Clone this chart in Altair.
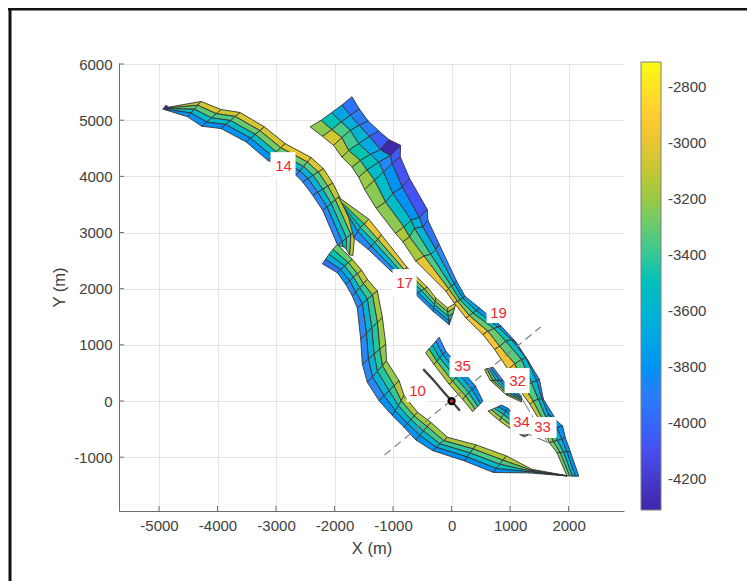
import altair as alt
import pandas as pd

# fault meshes: rows of nodes across the fault, (x, y) in metres, shallow edge first
fault14 = [
 [(-4900,5220),(-4905,5212),(-4908,5205),(-4910,5198),(-4912,5190)],
 [(-4282,5333),(-4340,5265),(-4396,5196),(-4453,5128),(-4510,5060)],
 [(-3940,5190),(-4022,5116),(-4105,5042),(-4187,4967),(-4270,4893)],
 [(-3615,5137),(-3696,5066),(-3778,4994),(-3859,4923),(-3940,4851)],
 [(-3199,4881),(-3277,4814),(-3356,4747),(-3434,4680),(-3512,4613)],
 [(-2845,4584),(-2919,4510),(-2994,4435),(-3068,4361),(-3142,4286)],
 [(-2401,4334),(-2465,4255),(-2529,4176),(-2593,4097),(-2657,4018)],
 [(-2190,4137),(-2278,4078),(-2367,4018),(-2455,3959),(-2543,3899)],
 [(-2030,3881),(-2116,3826),(-2201,3771),(-2287,3716),(-2372,3661)],
 [(-1916,3643),(-1987,3581),(-2059,3518),(-2130,3456),(-2201,3393)],
 [(-1648,3036),(-1722,2969),(-1797,2903),(-1871,2836),(-1945,2769)],
 [(-1688,2590),(-1745,2602),(-1802,2709),(-1856,2751),(-1945,2769)],
]
values14 = [
 [-3150,-3050,-3080,-3050,-3060,-3020,-3030,-3100,-3120,-3130,-3100],
 [-3300,-3330,-3350,-3300,-3280,-3300,-3330,-3350,-3350,-3400,-3350],
 [-3550,-3550,-3560,-3550,-3550,-3580,-3600,-3620,-3600,-3600,-3500],
 [-3800,-3800,-3820,-3800,-3800,-3850,-3850,-3850,-3850,-3850,-3500],
]
fault17 = [
 [(-1931,3627),(-1885,3537),(-1839,3448),(-1799,3358),(-1759,3269)],
 [(-1415,3239),(-1490,3149),(-1559,3090),(-1599,3018),(-1673,2910)],
 [(-1198,2958),(-1261,2881),(-1312,2821),(-1375,2761),(-1427,2702)],
 [(-756,2373),(-814,2343),(-871,2313),(-928,2284),(-986,2266)],
 [(-413,2027),(-464,1997),(-516,1967),(-567,1931),(-613,1896)],
 [(-269,1836),(-281,1776),(-292,1717),(-304,1657),(-315,1597)],
 [(-69,1657),(-63,1585),(-57,1508),(-46,1430),(-40,1358)],
 [(74,1746),(52,1657),(29,1567),(-6,1466),(-40,1358)],
]
values17 = [
 [-3200,-3000,-3030,-3050,-3100,-3150,-3100],
 [-3450,-3350,-3350,-3350,-3350,-3350,-3300],
 [-3550,-3600,-3600,-3600,-3550,-3550,-3500],
 [-3750,-3850,-3850,-3850,-3800,-3800,-3800],
]
fault19 = [
 [(-2418,4881),(-2229,5000),(-2046,5137),(-1874,5269),(-1702,5418)],
 [(-2206,4713),(-2046,4833),(-1885,4970),(-1730,5090),(-1576,5197)],
 [(-2017,4552),(-1874,4690),(-1730,4821),(-1576,4910),(-1427,4988)],
 [(-1874,4343),(-1759,4463),(-1587,4582),(-1404,4713),(-1243,4809)],
 [(-1702,4164),(-1559,4284),(-1387,4391),(-1215,4475),(-1072,4654)],
 [(-1587,3985),(-1444,4116),(-1243,4254),(-1043,4373),(-871,4552)],
 [(-1487,3767),(-1316,3932),(-1162,4080),(-1014,4229),(-877,4347)],
 [(-1287,3429),(-1128,3546),(-1003,3696),(-843,3813),(-718,3962)],
 [(-957,2984),(-815,3101),(-689,3221),(-547,3269),(-415,3411)],
 [(-832,2834),(-718,2923),(-632,3073),(-490,3101),(-405,3221)],
 [(-613,2493),(-470,2582),(-355,2612),(-269,2702),(-212,2791)],
 [(-97,1955),(-52,2003),(0,2045),(46,2087),(86,2134)],
 [(46,1746),(103,1776),(143,1806),(189,1836),(229,1866)],
 [(246,1478),(305,1523),(365,1568),(420,1612),(476,1657)],
 [(535,1184),(621,1243),(725,1291),(790,1320),(851,1332)],
 [(736,918),(822,977),(926,1066),(1023,1095),(1110,1036)],
 [(966,562),(1081,663),(1196,740),(1271,770),(1328,681)],
 [(1156,207),(1236,266),(1368,326),(1455,367),(1501,385)],
 [(1340,-59),(1397,0),(1484,30),(1541,47),(1570,30)],
 [(1512,-355),(1558,-326),(1616,-296),(1656,-237),(1800,-355)],
 [(1599,-533),(1656,-521),(1714,-503),(1800,-474),(1898,-444)],
 [(1668,-740),(1742,-722),(1811,-699),(1886,-681),(1944,-651)],
 [(1800,-918),(1857,-918),(1915,-906),(1972,-900),(2030,-900)],
 [(1972,-1332),(2018,-1332),(2064,-1338),(2116,-1338),(2174,-1338)],
]
values19 = [
 [-3230,-3060,-3150,-3200,-3260,-3200,-3230,-3230,-3150,-3180,-3000,-3000,-2980,-2980,-2960,-2980,-3000,-3050,-3100,-3200,-3200,-3250,-3250],
 [-3480,-3350,-3380,-3450,-3500,-3550,-3550,-3550,-3450,-3350,-3350,-3300,-3300,-3300,-3300,-3320,-3350,-3350,-3350,-3400,-3400,-3400,-3400],
 [-3700,-3650,-3600,-3680,-3700,-3850,-3800,-3800,-3650,-3600,-3550,-3500,-3500,-3500,-3500,-3550,-3600,-3600,-3600,-3600,-3600,-3600,-3600],
 [-3950,-3900,-3900,-4050,-4300,-4050,-4080,-4080,-3950,-3950,-3850,-3800,-3750,-3800,-3800,-3800,-3800,-3850,-3800,-3800,-3800,-3800,-3800],
]
fault10 = [
 [(-1953,2788),(-2027,2700),(-2096,2611),(-2153,2522),(-2210,2445)],
 [(-1696,2522),(-1764,2463),(-1827,2404),(-1896,2344),(-1953,2285)],
 [(-1536,2327),(-1610,2267),(-1679,2208),(-1742,2137),(-1810,2078)],
 [(-1439,2167),(-1507,2090),(-1570,2019),(-1639,1942),(-1696,1871)],
 [(-1268,1960),(-1353,1888),(-1439,1812),(-1525,1735),(-1610,1652)],
 [(-1182,1486),(-1268,1397),(-1365,1308),(-1456,1202),(-1553,1101)],
 [(-1125,1012),(-1228,924),(-1325,835),(-1422,746),(-1525,657)],
 [(-1113,716),(-1182,628),(-1268,527),(-1353,432),(-1439,332)],
 [(-896,361),(-982,272),(-1068,184),(-1153,95),(-1239,6)],
 [(-811,95),(-862,6),(-908,-83),(-965,-172),(-1011,-260)],
 [(-582,-201),(-640,-266),(-697,-332),(-754,-397),(-811,-468)],
 [(-354,-379),(-417,-456),(-480,-533),(-542,-610),(-611,-693)],
 [(-69,-645),(-137,-704),(-200,-764),(-263,-823),(-325,-882)],
 [(420,-781),(368,-852),(316,-924),(265,-995),(219,-1066)],
 [(937,-977),(880,-1054),(822,-1125),(765,-1202),(719,-1273)],
 [(1368,-1214),(1357,-1231),(1346,-1249),(1334,-1261),(1311,-1279)],
 [(1972,-1330),(1972,-1331),(1972,-1332),(1972,-1333),(1972,-1334)],
]
values10 = [
 [-3300,-3150,-3100,-3150,-3180,-3200,-3220,-3220,-3150,-3150,-3180,-3200,-3180,-3160,-3140,-3140],
 [-3450,-3350,-3300,-3400,-3400,-3420,-3420,-3420,-3400,-3380,-3380,-3380,-3400,-3350,-3350,-3350],
 [-3650,-3650,-3600,-3600,-3620,-3620,-3620,-3620,-3600,-3600,-3600,-3600,-3600,-3550,-3500,-3500],
 [-3950,-3800,-3850,-3850,-3850,-3850,-3850,-3850,-3800,-3800,-3800,-3800,-3820,-3820,-3800,-3600],
]
fault35 = [
 [(-443,858),(-385,929),(-328,995),(-270,1066),(-213,1137)],
 [(-299,651),(-253,710),(-201,770),(-150,829),(-98,888)],
 [(-40,296),(17,355),(75,414),(132,474),(190,533)],
 [(190,30),(242,89),(293,148),(351,207),(408,266)],
 [(362,-189),(403,-142),(449,-95),(495,-47),(535,0)],
]
values35 = [
 [-3200,-3150,-3150,-3200],
 [-3450,-3400,-3350,-3350],
 [-3650,-3600,-3600,-3600],
 [-3850,-3800,-3800,-3800],
]
fault32 = [
 [(564,562),(604,574),(638,580),(673,592),(707,604)],
 [(661,367),(707,367),(765,367),(822,367),(880,367)],
 [(937,107),(949,130),(966,154),(984,189),(995,237)],
 [(1196,-18),(1196,12),(1196,41),(1196,65),(1196,89)],
]
values32 = [
 [-3150,-3150,-3150],
 [-3400,-3400,-3400],
 [-3600,-3600,-3600],
 [-3850,-3800,-3800],
]
fault34 = [
 [(621,-178),(679,-154),(736,-130),(794,-101),(851,-71)],
 [(822,-355),(851,-296),(891,-237),(926,-178),(966,-130)],
 [(995,-485),(995,-414),(995,-326),(995,-237),(995,-166)],
]
values34 = [
 [-3150,-3150],
 [-3350,-3350],
 [-3600,-3600],
 [-3800,-3800],
]
faults = [(fault14,values14),(fault17,values17),(fault19,values19),
          (fault10,values10),(fault35,values35),(fault32,values32),(fault34,values34)]

# thin traces and small pieces
trace_a_x = [1156,1254,1311,1656]
trace_a_y = [-592,-622,-592,-740]
trace_b_x = [1081,1311,1627]
trace_b_y = [266,-148,-710]
patch33 = [(1179,-604),(1311,-604),(1242,-639),(1179,-604)]
tip_patch = [(-4937,5196),(-4880,5268),(-4812,5208),(-4937,5196)]
patch_values = [-3100, -4310]
well_x = [-485,-325,-154,0,143]
well_y = [568,391,184,0,-172]
profile_x = [-1145,1521]
profile_y = [-960,1317]

label_text = ["14","17","19","10","35","32","34","33"]
label_x = [-2872,-803,803,-581,188,1128,1197,1556]
label_y = [4181,2100,1566,178,623,356,-374,-463]
box_x1 = [-3094,-1009,598,-769,-34,906,991,1368]
box_x2 = [-2667,-598,957,-410,342,1333,1368,1795]
box_y1 = [4431,2349,1708,320,783,587,-196,-285]
box_y2 = [3950,1851,1388,-18,427,142,-463,-658]

xticks = [-5000,-4000,-3000,-2000,-1000,0,1000,2000]
yticks = [-1000,0,1000,2000,3000,4000,5000,6000]
cticks = [-2800,-3000,-3200,-3400,-3600,-3800,-4000,-4200]
parula = ["#3e26a8","#4752f4","#2d87f7","#12b1d6","#37c897","#abc739","#fec338","#f9fb14"]
CD = [-4311,-2711]
XD = [-5684, 2947]
YD = [-1958, 6018]

rows = []
cid = 0
for mesh, vals in faults:
    for j, strip in enumerate(vals):
        for i, v in enumerate(strip):
            corners = [mesh[i][j], mesh[i][j+1], mesh[i+1][j+1], mesh[i+1][j], mesh[i][j]]
            for k, (px, py) in enumerate(corners):
                rows.append(dict(cell=cid, k=k, x=px, y=py, z=v))
            cid += 1
for poly, v in zip([patch33, tip_patch], patch_values):
    for k, (px, py) in enumerate(poly):
        rows.append(dict(cell=cid, k=k, x=px, y=py, z=v))
    cid += 1
cells = pd.DataFrame(rows)

xs = alt.Scale(domain=XD, nice=False)
ys = alt.Scale(domain=YD, nice=False)
FONT = "Liberation Sans"
GREY = "#404040"

base_axis = dict(grid=True, gridColor="#e4e4e4", gridWidth=1, ticks=False, domainColor="#6e6e6e",
                 domainWidth=1, labelColor=GREY, titleColor=GREY, labelFont=FONT, titleFont=FONT,
                 labelFontSize=15, titleFontSize=16.5, titleFontWeight="normal",
                 labelExpr="toString(datum.value)")

mesh_layer = alt.Chart(cells).mark_line(stroke="#333333", strokeWidth=0.9, strokeJoin="round").encode(
    x=alt.X("x:Q", scale=xs, title="X (m)",
            axis=alt.Axis(values=xticks, labelPadding=7, titlePadding=7, **base_axis)),
    y=alt.Y("y:Q", scale=ys, title="Y (m)",
            axis=alt.Axis(values=yticks, labelPadding=7, titlePadding=6, **base_axis)),
    detail="cell:N",
    order="k:Q",
    fill=alt.Fill("z:Q",
                  scale=alt.Scale(domain=CD, range=parula, nice=False, zero=False, clamp=True),
                  legend=alt.Legend(type="gradient", orient="none", legendX=522, legendY=-1, title=None,
                                    gradientLength=448, gradientThickness=20, values=cticks,
                                    labelExpr="toString(datum.value)",
                                    gradientStrokeColor="#808080", gradientStrokeWidth=1,
                                    labelFont=FONT, labelFontSize=15, labelColor=GREY, labelOffset=7)),
)

def line(xv, yv, **kw):
    d = pd.DataFrame(dict(x=xv, y=yv, k=range(len(xv))))
    return alt.Chart(d).mark_line(**kw).encode(x=alt.X("x:Q", scale=xs), y=alt.Y("y:Q", scale=ys), order="k:Q")

profile = line(profile_x, profile_y, color="#808080", strokeWidth=1.2, strokeDash=[8, 5])
well = line(well_x, well_y, color="#444444", strokeWidth=2.4)
trace_a = line(trace_a_x, trace_a_y, color="#555555", strokeWidth=0.9)
trace_b = line(trace_b_x, trace_b_y, color="#666666", strokeWidth=0.9)

origin = pd.DataFrame(dict(x=[0], y=[0]))
ring = alt.Chart(origin).mark_point(filled=False, color="#000000", strokeWidth=2.6, size=32, opacity=1).encode(
    x=alt.X("x:Q", scale=xs), y=alt.Y("y:Q", scale=ys))
dot = alt.Chart(origin).mark_point(filled=True, color="#e0202a", size=9, opacity=1).encode(
    x=alt.X("x:Q", scale=xs), y=alt.Y("y:Q", scale=ys))

labels = pd.DataFrame(dict(t=label_text, x=label_x, y=label_y, x1=box_x1, x2=box_x2, y1=box_y1, y2=box_y2))
boxes = alt.Chart(labels).mark_rect(color="white", opacity=1).encode(
    x=alt.X("x1:Q", scale=xs), x2="x2:Q", y=alt.Y("y1:Q", scale=ys), y2="y2:Q")
texts = alt.Chart(labels).mark_text(color="#f0262e", font=FONT, fontSize=15).encode(
    x=alt.X("x:Q", scale=xs), y=alt.Y("y:Q", scale=ys), text="t:N")

xt = alt.Chart(pd.DataFrame(dict(x=xticks))).mark_rule(color="#6e6e6e").encode(
    x=alt.X("x:Q", scale=xs), y=alt.value(448), y2=alt.value(443))
yt = alt.Chart(pd.DataFrame(dict(y=yticks))).mark_rule(color="#6e6e6e").encode(
    y=alt.Y("y:Q", scale=ys), x=alt.value(0), x2=alt.value(5))
# colourbar ticks: the bar has the height of the plot, so its values map linearly onto the y range
cb_pos = [YD[0] + (c - CD[0]) / (CD[1] - CD[0]) * (YD[1] - YD[0]) for c in cticks]
ct = alt.Chart(pd.DataFrame(dict(y=cb_pos))).mark_rule(color="#6e6e6e").encode(
    y=alt.Y("y:Q", scale=ys), x=alt.value(538), x2=alt.value(542))

frame_left = alt.Chart(pd.DataFrame(dict(a=[0]))).mark_rule(color="#111111", strokeWidth=3).encode(
    x=alt.value(-109), y=alt.value(-55), y2=alt.value(518))
frame_top = alt.Chart(pd.DataFrame(dict(a=[0]))).mark_rule(color="#111111", strokeWidth=3).encode(
    y=alt.value(-54), x=alt.value(-111), x2=alt.value(628))

chart = alt.layer(
    mesh_layer, profile, trace_a, trace_b, well, ring, dot, boxes, texts, xt, yt, ct, frame_left, frame_top
).properties(
    width=505, height=448,
    autosize=alt.AutoSizeParams(type="none"),
    padding={"left": 111, "top": 55, "right": 123, "bottom": 70},
).configure_view(stroke=None)

chart.save("out.html", embed_options={"renderer": "svg", "actions": False})
